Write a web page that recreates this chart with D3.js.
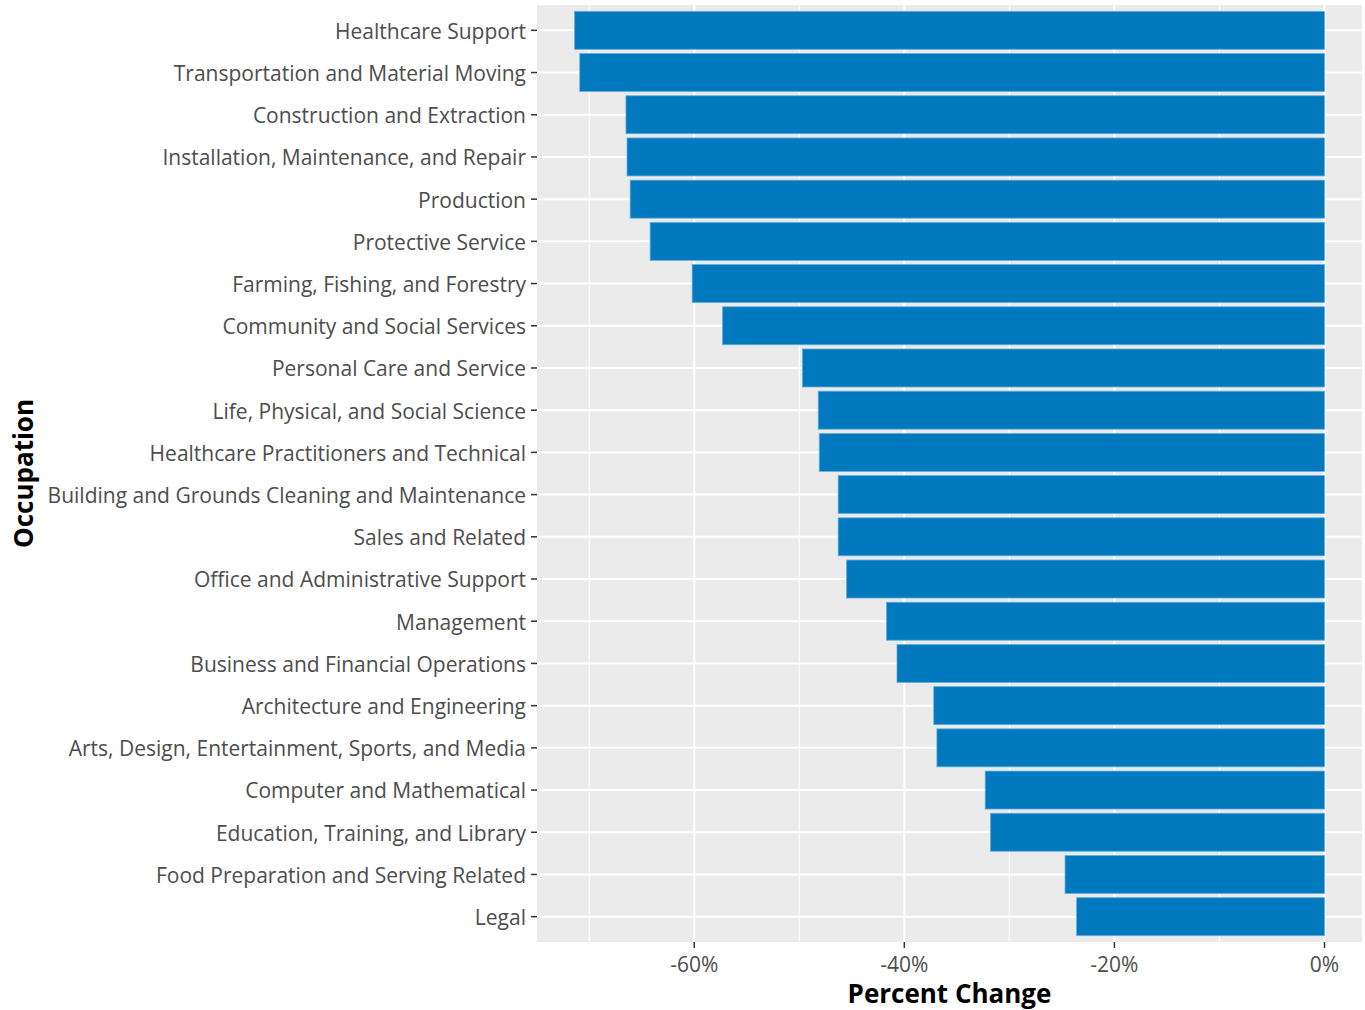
<!DOCTYPE html>
<html>
<head>
<meta charset="utf-8">
<script src="https://cdn.jsdelivr.net/npm/d3@7"></script>
<style>
  body { margin: 0; background: #fff; }
  svg { display: block; font-family: "Open Sans", Lato, sans-serif; }
</style>
</head>
<body>
<svg id="chart" width="1365" height="1010"></svg>
<script>
// occupations, top to bottom
var occupations = [
  "Healthcare Support",
  "Transportation and Material Moving",
  "Construction and Extraction",
  "Installation, Maintenance, and Repair",
  "Production",
  "Protective Service",
  "Farming, Fishing, and Forestry",
  "Community and Social Services",
  "Personal Care and Service",
  "Life, Physical, and Social Science",
  "Healthcare Practitioners and Technical",
  "Building and Grounds Cleaning and Maintenance",
  "Sales and Related",
  "Office and Administrative Support",
  "Management",
  "Business and Financial Operations",
  "Architecture and Engineering",
  "Arts, Design, Entertainment, Sports, and Media",
  "Computer and Mathematical",
  "Education, Training, and Library",
  "Food Preparation and Serving Related",
  "Legal"
];
// percent change
var pctChange = [-71.4, -70.9, -66.5, -66.4, -66.1, -64.2, -60.2, -57.3, -49.7, -48.2, -48.1,
                 -46.3, -46.3, -45.5, -41.7, -40.7, -37.2, -36.9, -32.3, -31.8, -24.7, -23.6];
var majorTicks = [-60, -40, -20, 0];
var minorTicks = [-70, -50, -30, -10];

var data = occupations.map(function(d, i) { return {name: d, value: pctChange[i]}; });

var svg = d3.select("#chart");
var panel = {left: 537, right: 1362, top: 5, bottom: 942};

var minV = d3.min(pctChange), span = 0 - minV;
var x = d3.scaleLinear()
    .domain([minV - 0.05 * span, 0 + 0.05 * span])
    .range([panel.left, panel.right]);

// discrete scale with ggplot-like 0.6 expansion
var step = (panel.bottom - panel.top) / (occupations.length - 1 + 1.2);
var y = function(name) { return panel.top + (0.6 + occupations.indexOf(name)) * step; };
var barH = step * 0.9;

svg.append("rect")
  .attr("x", panel.left).attr("y", panel.top)
  .attr("width", panel.right - panel.left).attr("height", panel.bottom - panel.top)
  .attr("fill", "#ebebeb");

var grid = svg.append("g");
grid.selectAll(".minor").data(minorTicks).enter().append("line")
  .attr("x1", function(d) { return x(d); }).attr("x2", function(d) { return x(d); })
  .attr("y1", panel.top).attr("y2", panel.bottom)
  .attr("stroke", "#fff").attr("stroke-width", 1);
grid.selectAll(".majorx").data(majorTicks).enter().append("line")
  .attr("x1", function(d) { return x(d); }).attr("x2", function(d) { return x(d); })
  .attr("y1", panel.top).attr("y2", panel.bottom)
  .attr("stroke", "#fff").attr("stroke-width", 2);
grid.selectAll(".majory").data(occupations).enter().append("line")
  .attr("x1", panel.left).attr("x2", panel.right)
  .attr("y1", function(d) { return y(d); }).attr("y2", function(d) { return y(d); })
  .attr("stroke", "#fff").attr("stroke-width", 2);

svg.append("g").selectAll("rect").data(data).enter().append("rect")
  .attr("x", function(d) { return x(d.value); })
  .attr("y", function(d) { return y(d.name) - barH / 2; })
  .attr("width", function(d) { return x(0) - x(d.value); })
  .attr("height", barH)
  .attr("fill", "#0079be")
  .attr("stroke", "#62aedd")
  .attr("stroke-width", 0.8);

// y axis
var yAxis = svg.append("g");
yAxis.selectAll("line").data(occupations).enter().append("line")
  .attr("x1", panel.left - 6).attr("x2", panel.left)
  .attr("y1", function(d) { return y(d); }).attr("y2", function(d) { return y(d); })
  .attr("stroke", "#333").attr("stroke-width", 1.5);
yAxis.selectAll("text").data(occupations).enter().append("text")
  .attr("x", panel.left - 11)
  .attr("y", function(d) { return y(d); })
  .attr("dy", "0.4em")
  .attr("text-anchor", "end")
  .attr("fill", "#4d4d4d")
  .style("font-size", "21px")
  .text(function(d) { return d; });

// x axis
var xAxis = svg.append("g");
xAxis.selectAll("line").data(majorTicks).enter().append("line")
  .attr("x1", function(d) { return x(d); }).attr("x2", function(d) { return x(d); })
  .attr("y1", panel.bottom).attr("y2", panel.bottom + 6)
  .attr("stroke", "#333").attr("stroke-width", 1.5);
xAxis.selectAll("text").data(majorTicks).enter().append("text")
  .attr("x", function(d) { return x(d); })
  .attr("y", panel.bottom + 22)
  .attr("dy", "0.36em")
  .attr("text-anchor", "middle")
  .attr("fill", "#4d4d4d")
  .style("font-size", "21px")
  .text(function(d) { return d + "%"; });

svg.append("text")
  .attr("x", (panel.left + panel.right) / 2)
  .attr("y", 994)
  .attr("dy", "0.36em")
  .attr("text-anchor", "middle")
  .style("font-size", "26px").style("font-weight", "bold")
  .text("Percent Change");

svg.append("text")
  .attr("transform", "translate(24," + ((panel.top + panel.bottom) / 2) + ") rotate(-90)")
  .attr("dy", "0.36em")
  .attr("text-anchor", "middle")
  .style("font-size", "26px").style("font-weight", "bold")
  .text("Occupation");
</script>
</body>
</html>
